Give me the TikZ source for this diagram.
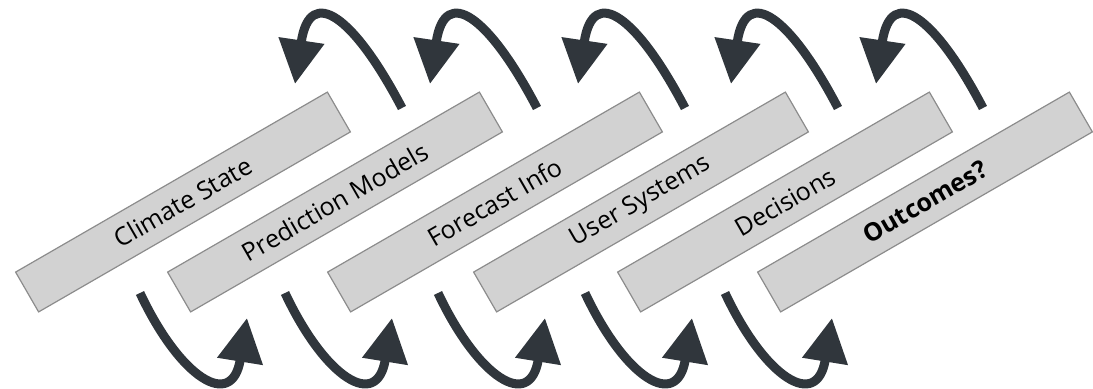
\documentclass[tikz,border=0pt]{standalone}
\usepackage{fontspec}
\setmainfont{Open Sans}
\usetikzlibrary{arrows.meta}
\definecolor{boxgray}{HTML}{D2D2D2}
\definecolor{edgegray}{HTML}{8C8C8C}
\definecolor{arrowdark}{HTML}{30363C}

\begin{document}
\begin{tikzpicture}[x=0.5pt, y=0.5pt,
  stage/.style={rectangle, rotate=30, fill=boxgray, draw=edgegray, line width=0.6pt,
    minimum width=180pt, minimum height=23pt, inner sep=0pt, text=black,
    font=\fontsize{12.5}{13}\selectfont},
  backarrow/.style={arrowdark, line width=4.5pt, -{Triangle[width=22pt, length=22pt]}},
  fwdarrow/.style={arrowdark, line width=4.5pt, -{Triangle[width=22pt, length=22pt]}}]
\useasboundingbox (0,0) rectangle (1093,388);
\node [stage] (cs) at (183,186) {Climate State};
\node [stage] (pm) at (335,186) {Prediction Models};
\node [stage] (fi) at (495,186) {Forecast Info};
\node [stage] (us) at (641,186) {User Systems};
\node [stage] (dec) at (785,186) {Decisions};
\node [stage] (oc) at (925,186) {\textbf{Outcomes?}};
% feedback above the boxes
\coordinate (fb1s) at (402,280); \coordinate (fb1e) at (295,304);
\coordinate (fb2s) at (537,280); \coordinate (fb2e) at (430,304);
\coordinate (fb3s) at (685,280); \coordinate (fb3e) at (578,304);
\coordinate (fb4s) at (838,280); \coordinate (fb4e) at (731,304);
\coordinate (fb5s) at (983,280); \coordinate (fb5e) at (876,304);
\draw[backarrow] (fb1s) .. controls +(-47,90) and +(15,101) .. (fb1e);
\draw[backarrow] (fb2s) .. controls +(-47,90) and +(15,101) .. (fb2e);
\draw[backarrow] (fb3s) .. controls +(-47,90) and +(15,101) .. (fb3e);
\draw[backarrow] (fb4s) .. controls +(-47,90) and +(15,101) .. (fb4e);
\draw[backarrow] (fb5s) .. controls +(-47,90) and +(15,101) .. (fb5e);
% forward below the boxes
\coordinate (ff1s) at (140,95); \coordinate (ff1e) at (247,70);
\coordinate (ff2s) at (285,95); \coordinate (ff2e) at (392,70);
\coordinate (ff3s) at (438,95); \coordinate (ff3e) at (545,70);
\coordinate (ff4s) at (585,95); \coordinate (ff4e) at (692,70);
\coordinate (ff5s) at (725,95); \coordinate (ff5e) at (832,70);
\draw[fwdarrow] (ff1s) .. controls +(40,-85) and +(-15,-93) .. (ff1e);
\draw[fwdarrow] (ff2s) .. controls +(40,-85) and +(-15,-93) .. (ff2e);
\draw[fwdarrow] (ff3s) .. controls +(40,-85) and +(-15,-93) .. (ff3e);
\draw[fwdarrow] (ff4s) .. controls +(40,-85) and +(-15,-93) .. (ff4e);
\draw[fwdarrow] (ff5s) .. controls +(40,-85) and +(-15,-93) .. (ff5e);
\end{tikzpicture}
\end{document}
